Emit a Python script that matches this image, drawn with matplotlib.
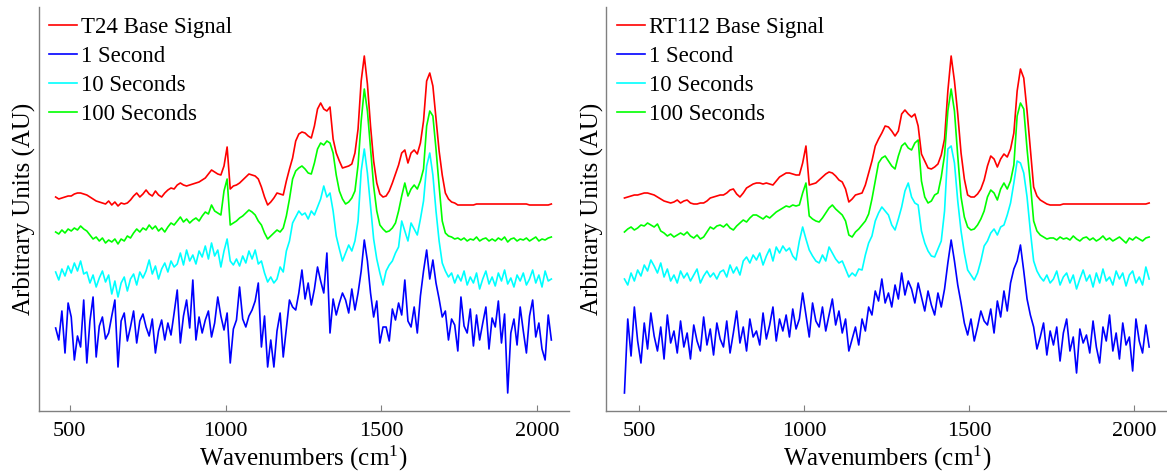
import numpy as np
import matplotlib
matplotlib.use("Agg")
import matplotlib.pyplot as plt

plt.rcParams['font.family'] = ['Liberation Serif', 'DejaVu Serif']
plt.rcParams['mathtext.default'] = 'regular'

# wavenumber grid (cm^-1)
wavenumbers = np.arange(455, 2046, 10)

legend_left = ["T24 Base Signal", "1 Second", "10 Seconds", "100 Seconds"]
legend_right = ["RT112 Base Signal", "1 Second", "10 Seconds", "100 Seconds"]
colors = ["#ff0000", "#0000ff", "#00ffff", "#00ff00"]
xticks = [500, 1000, 1500, 2000]

# ---------------- T24 (left) ----------------
t24_base = [
    214, 212, 213, 214, 215, 215, 217, 218, 218, 217,
    216, 214, 212, 210, 209, 208, 207, 210, 206, 209,
    205, 208, 207, 208, 211, 215, 218, 214, 217, 221,
    217, 215, 220, 216, 214, 218, 221, 223, 222, 226,
    228, 226, 225, 226, 227, 228, 229, 231, 233, 237,
    241, 239, 237, 236, 245, 264, 222, 225, 226, 228,
    231, 234, 237, 236, 235, 232, 224, 214, 206, 209,
    213, 218, 217, 216, 230, 242, 253, 270, 277, 279,
    278, 275, 273, 285, 302, 308, 302, 300, 304, 272,
    258, 250, 243, 244, 245, 247, 258, 282, 330, 355,
    327, 285, 250, 228, 217, 214, 215, 220, 228, 237,
    246, 258, 261, 248, 258, 261, 257, 268, 290, 330,
    338, 325, 292, 260, 236, 218, 212, 209, 208, 206,
    206, 206, 206, 206, 206, 207, 207, 207, 207, 207,
    207, 207, 207, 207, 207, 207, 207, 207, 207, 207,
    207, 207, 206, 206, 206, 206, 206, 206, 206, 207,
]
t24_1s = [
    83, 71, 100, 58, 108, 94, 51, 75, 64, 111,
    48, 90, 114, 54, 85, 94, 72, 78, 95, 111,
    44, 90, 98, 70, 84, 100, 68, 90, 97, 84,
    75, 92, 58, 80, 91, 71, 88, 76, 98, 121,
    68, 95, 111, 83, 131, 71, 94, 78, 91, 100,
    74, 88, 114, 95, 81, 98, 48, 82, 91, 124,
    92, 84, 95, 101, 110, 128, 64, 95, 44, 71,
    44, 80, 98, 54, 82, 111, 104, 101, 118, 141,
    112, 128, 106, 122, 144, 130, 118, 158, 78, 112,
    96, 108, 118, 111, 98, 122, 101, 118, 140, 171,
    150, 118, 94, 110, 68, 84, 84, 70, 102, 91,
    108, 96, 131, 90, 84, 104, 78, 115, 140, 161,
    132, 151, 128, 112, 94, 100, 71, 92, 86, 60,
    114, 85, 78, 102, 65, 96, 71, 88, 104, 62,
    93, 84, 110, 68, 97, 18, 78, 92, 66, 104,
    80, 58, 95, 111, 74, 88, 62, 51, 96, 71,
]
t24_10s = [
    139, 131, 142, 135, 145, 138, 148, 140, 150, 137,
    139, 128, 136, 124, 133, 140, 129, 136, 117, 130,
    114, 128, 134, 120, 132, 137, 126, 139, 133, 140,
    151, 137, 145, 132, 142, 148, 139, 150, 144, 147,
    158, 146, 161, 150, 156, 147, 160, 154, 165, 152,
    168, 155, 161, 144, 160, 172, 150, 146, 152, 145,
    155, 148, 160, 152, 161, 147, 150, 138, 129, 134,
    128, 132, 144, 139, 160, 170, 188, 194, 200, 196,
    198, 192, 200, 196, 204, 212, 225, 214, 218, 200,
    175, 162, 150, 158, 166, 160, 170, 190, 240, 262,
    238, 205, 172, 152, 138, 126, 140, 146, 150, 158,
    164, 190, 180, 170, 188, 182, 176, 192, 210, 245,
    258, 236, 200, 170, 148, 140, 134, 138, 128, 136,
    130, 140, 126, 134, 128, 138, 122, 132, 140, 127,
    134, 125, 138, 130, 141, 127, 133, 124, 136, 130,
    138, 126, 132, 141, 128, 136, 124, 140, 130, 132,
]
t24_100s = [
    179, 177, 181, 178, 182, 180, 183, 181, 185, 182,
    180, 176, 172, 174, 170, 173, 168, 171, 169, 172,
    167, 172, 170, 175, 173, 178, 182, 179, 183, 181,
    186, 182, 185, 180, 183, 179, 184, 188, 186, 190,
    194, 189, 192, 188, 191, 193, 190, 195, 199, 197,
    206, 200, 198, 196, 220, 232, 186, 188, 190, 193,
    195, 198, 201, 199, 196, 190, 186, 178, 172, 175,
    178, 181, 179, 183, 195, 212, 232, 240, 243, 245,
    242, 238, 237, 248, 262, 268, 266, 270, 268, 258,
    236, 220, 212, 207, 209, 213, 220, 246, 290, 322,
    300, 262, 225, 200, 186, 182, 179, 180, 183, 188,
    200, 215, 228, 215, 222, 226, 222, 230, 242, 285,
    300, 295, 262, 225, 190, 178, 175, 174, 172, 173,
    171, 173, 170, 172, 171, 174, 170, 172, 173, 170,
    172, 170, 173, 171, 174, 169, 172, 173, 170, 172,
    171, 173, 170, 172, 174, 170, 172, 171, 173, 174,
]

# ---------------- RT112 (right) ----------------
rt112_base = [
    213, 214, 215, 216, 216, 217, 218, 218, 217, 216,
    214, 212, 210, 209, 208, 209, 211, 208, 210, 211,
    208, 207, 207, 208, 208, 210, 213, 214, 215, 216,
    216, 218, 221, 222, 217, 214, 218, 223, 225, 227,
    228, 228, 227, 228, 227, 226, 230, 234, 236, 238,
    238, 237, 236, 236, 248, 265, 226, 227, 228, 231,
    234, 237, 239, 238, 235, 231, 229, 222, 209, 212,
    216, 217, 218, 226, 238, 250, 265, 272, 278, 285,
    284, 280, 275, 280, 297, 301, 297, 294, 297, 285,
    257, 250, 243, 242, 244, 247, 256, 272, 320, 355,
    330, 297, 258, 232, 216, 214, 214, 217, 222, 231,
    245, 255, 252, 244, 252, 257, 254, 262, 278, 320,
    342, 333, 300, 262, 224, 215, 211, 209, 207, 206,
    206, 206, 206, 207, 207, 207, 207, 207, 207, 207,
    207, 207, 207, 207, 207, 207, 207, 207, 207, 207,
    207, 207, 207, 207, 207, 207, 207, 207, 207, 208,
]
rt112_1s = [
    18, 92, 55, 104, 70, 48, 88, 62, 98, 75,
    60, 84, 52, 96, 68, 80, 58, 90, 64, 78,
    52, 86, 70, 60, 94, 66, 82, 56, 88, 72,
    64, 90, 58, 78, 100, 68, 84, 60, 92, 74,
    80, 66, 98, 72, 86, 104, 70, 92, 80, 96,
    74, 102, 82, 92, 118, 96, 74, 108, 90, 84,
    104, 80, 96, 112, 86, 100, 78, 92, 60, 72,
    84, 66, 92, 80, 104, 96, 120, 110, 132, 108,
    118, 104, 126, 112, 138, 116, 130, 122, 108, 128,
    114, 100, 120, 106, 96, 118, 104, 122, 148, 171,
    150, 126, 108, 88, 76, 92, 70, 84, 100, 90,
    86, 102, 78, 110, 94, 120, 100, 128, 142, 150,
    166, 140, 112, 96, 84, 62, 74, 88, 56, 80,
    66, 84, 50, 78, 92, 60, 74, 38, 82, 68,
    76, 58, 90, 64, 48, 84, 70, 96, 60, 78,
    52, 88, 66, 74, 40, 92, 70, 58, 86, 64,
]
rt112_10s = [
    132, 126, 138, 130, 141, 135, 146, 140, 151, 145,
    138, 148, 134, 142, 130, 136, 128, 140, 133, 138,
    130, 136, 142, 128, 135, 140, 134, 138, 132, 139,
    141, 134, 146, 138, 144, 136, 150, 154, 148, 156,
    151, 158, 146, 155, 162, 150, 164, 158, 165, 160,
    163, 155, 151, 170, 184, 172, 161, 155, 150, 148,
    156, 150, 164, 158, 152, 148, 150, 142, 134, 138,
    135, 142, 141, 156, 168, 175, 190, 198, 204, 200,
    196, 186, 181, 192, 204, 220, 228, 214, 208, 206,
    180, 168, 160, 155, 154, 162, 170, 200, 262, 265,
    248, 210, 180, 158, 141, 136, 131, 138, 150, 165,
    170, 178, 182, 176, 184, 186, 196, 208, 228, 250,
    248, 238, 214, 180, 150, 140, 134, 130, 136, 128,
    132, 140, 126, 134, 138, 128, 136, 122, 132, 141,
    130, 136, 124, 138, 128, 142, 130, 134, 126, 140,
    132, 138, 125, 136, 140, 128, 134, 126, 144, 132,
]
rt112_100s = [
    179, 182, 184, 181, 183, 186, 185, 188, 186, 184,
    187, 180, 178, 175, 177, 174, 176, 178, 176, 179,
    175, 173, 176, 172, 174, 179, 184, 182, 185, 186,
    184, 187, 183, 181, 185, 188, 191, 189, 193, 196,
    196, 194, 192, 195, 193, 196, 199, 201, 203, 205,
    204, 206, 205, 206, 218, 228, 195, 192, 190, 189,
    193, 198, 203, 206, 202, 199, 196, 190, 176, 174,
    179, 182, 186, 190, 197, 212, 230, 248, 253, 255,
    250, 245, 242, 255, 265, 268, 263, 261, 268, 271,
    230, 214, 208, 210, 216, 218, 234, 256, 300, 322,
    300, 255, 214, 194, 184, 181, 182, 186, 192, 200,
    214, 221, 218, 211, 222, 228, 222, 230, 246, 295,
    308, 302, 262, 228, 190, 180, 176, 174, 172, 173,
    173, 171, 174, 172, 173, 171, 175, 172, 170, 173,
    174, 171, 173, 170, 172, 175, 171, 173, 170, 172,
    174, 171, 168, 173, 171, 174, 172, 170, 173, 174,
]

W, H = 1167, 475
fig = plt.figure(figsize=(W / 100, H / 100), dpi=100)

axes_px = [(38.5, 7, 530), (606.3, 7, 561)]  # left, top, width in px
bottom_px = 411

panels = [
    (legend_left, [t24_base, t24_1s, t24_10s, t24_100s]),
    (legend_right, [rt112_base, rt112_1s, rt112_10s, rt112_100s]),
]

for (lx, ty, wpx), (labels, series) in zip(axes_px, panels):
    ax = fig.add_axes([lx / W, (H - bottom_px) / H, wpx / W, (bottom_px - ty) / H])
    for lab, col, ys in zip(labels, colors, series):
        ax.plot(wavenumbers, ys, color=col, lw=1.2, label=lab)
    ax.set_xlim(400, 2100)
    ax.set_ylim(0, bottom_px - ty)
    ax.set_xticks(xticks)
    ax.set_yticks([])
    for s in ['top', 'right']:
        ax.spines[s].set_visible(False)
    for s in ['left', 'bottom']:
        ax.spines[s].set_color('#808080')
        ax.spines[s].set_linewidth(1.0)
    ax.tick_params(axis='x', direction='in', length=4, color='#808080',
                   labelsize=16, pad=8)
    ax.set_xlabel("Wavenumbers (cm$^{1}$)", fontsize=18, labelpad=2)
    ax.set_ylabel("Arbitrary Units (AU)", fontsize=18, labelpad=2)
    ax.legend(loc='upper left', frameon=False, fontsize=16.5,
              handlelength=1.25, handletextpad=0.15, labelspacing=0.34,
              borderaxespad=0.25, borderpad=0.2)

fig.savefig("out.png", dpi=100)
